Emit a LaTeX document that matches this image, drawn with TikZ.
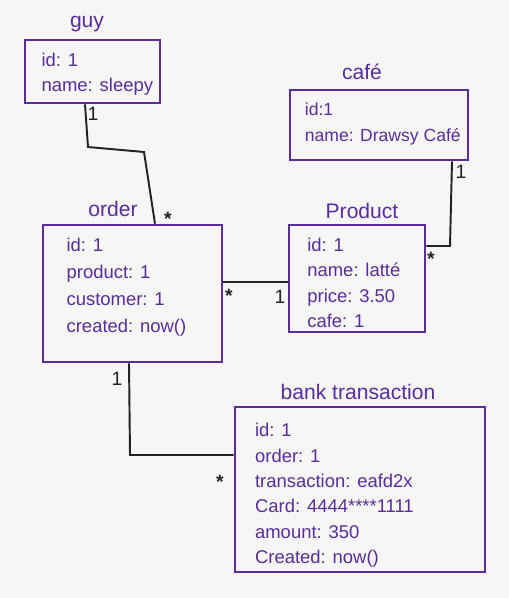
\documentclass[tikz,border=0pt]{standalone}
\usepackage{fontspec}
\setmainfont{Liberation Sans}
\usetikzlibrary{fit,positioning}
\definecolor{umlpurple}{RGB}{90,44,156}
\definecolor{linkgray}{RGB}{34,34,34}
\definecolor{paper}{RGB}{246,246,246}
\tikzset
{
    entity/.style = {draw=umlpurple, line width=1.5pt, inner sep=0pt},
    fields/.style = {anchor=north west, align=left, text=umlpurple, inner sep=0pt, font=\fontsize{10.5}{14.4}\selectfont},
    title/.style  = {anchor=base, text=umlpurple, font=\fontsize{12}{15}\selectfont},
    link/.style   = {draw=linkgray, line width=1.1pt},
    mult/.style   = {text=linkgray, inner sep=0pt, font=\fontsize{11}{12}\selectfont}
}
\begin{document}
\begin{tikzpicture}[x=0.02cm,y=-0.02cm]
\fill[paper] (0,0) rectangle (509,598);
% tables
\node [entity, fit={(25,40) (160,103)}] (guy) {};
\node [entity, fit={(290,90) (468,160)}] (cafe) {};
\node [entity, fit={(43,225) (222,362)}] (order) {};
\node [entity, fit={(289,225) (425,332)}] (product) {};
\node [entity, fit={(235,407) (485,572)}] (bank) {};
% titles
\node [title] at (87,28) (guyname) {guy};
\node [title] at (362,80) (cafename) {café};
\node [title] at (113,216) (ordername) {order};
\node [title] at (362,218) (productname) {Product};
\node [title] at (358,399) (bankname) {bank transaction};
% rows
\node [fields] at ([xshift=10,yshift=-8]guy.north west) (guyrows) {id: 1\\name: sleepy};
\node [fields, font=\fontsize{10}{14.4}\selectfont] at ([xshift=9,yshift=-8]cafe.north west) (caferows) {id:1\\name: Drawsy Café};
\node [fields] at ([xshift=14,yshift=-8]order.north west) (orderrows) {id: 1\\[0.9pt]product: 1\\[0.9pt]customer: 1\\[0.9pt]created: now()};
\node [fields] at ([xshift=11,yshift=-8]product.north west) (productrows) {id: 1\\name: latté\\price: 3.50\\cafe: 1};
\node [fields] at ([xshift=12,yshift=-10]bank.north west) (bankrows) {id: 1\\order: 1\\transaction: eafd2x\\Card: 4444****1111\\amount: 350\\Created: now()};
% relations
\coordinate (g1) at (88,147);
\coordinate (g2) at (144,152);
\coordinate (c1) at (450,246);
\coordinate (b1) at (130,455);
\draw [link] (85,0 |- guy.south) -- (g1) -- (g2) -- (155,0 |- order.north);
\draw [link] (452,0 |- cafe.south) -- (c1) -- (product.east |- c1);
\draw [link] (order.east |- 0,282) -- (product.west |- 0,282);
\draw [link] (129,0 |- order.south) -- (b1) -- (bank.west |- b1);
% multiplicities
\node [mult] at (93,114) (m1) {1};
\node [mult] at (168,219) (m2) {\textbf{*}};
\node [mult] at (461,172) (m3) {1};
\node [mult] at (431,259) (m4) {\textbf{*}};
\node [mult] at (229,296) (m5) {\textbf{*}};
\node [mult] at (280,297) (m6) {1};
\node [mult] at (117,379) (m7) {1};
\node [mult] at (220,482) (m8) {\textbf{*}};
\end{tikzpicture}
\end{document}
